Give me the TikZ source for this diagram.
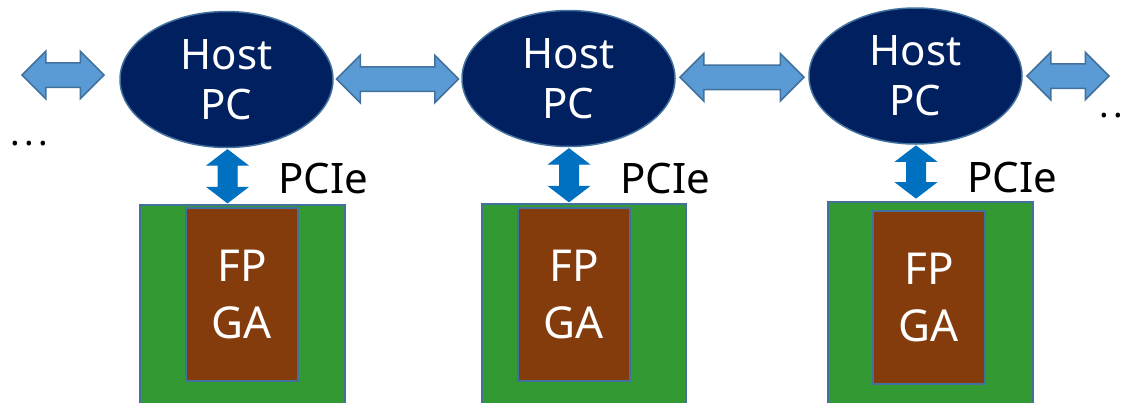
\documentclass[tikz,border=0pt]{standalone}
\usepackage{fontspec}
\setmainfont{Noto Sans}
\usetikzlibrary{shapes.geometric,shapes.arrows,calc}
\definecolor{navy}{HTML}{002060}
\definecolor{bord}{HTML}{41719C}
\definecolor{lblue}{HTML}{5B9BD5}
\definecolor{dblue}{HTML}{0070C0}
\definecolor{pcb}{HTML}{339933}
\definecolor{chip}{HTML}{843C0C}
\tikzset{
  host/.style={ellipse, draw=bord, fill=navy, line width=1.5pt, minimum width=213pt, minimum height=136pt, inner sep=0pt, text=white, align=center, font=\fontsize{42}{50}\selectfont},
  board/.style={rectangle, draw=bord, fill=pcb, line width=1.5pt, inner sep=0pt},
  chipbox/.style={rectangle, draw=bord, fill=chip, line width=1.5pt, inner sep=0pt, minimum width=112pt, minimum height=173pt, text=white, align=center, font=\fontsize{44}{57}\selectfont},
  harrow/.style={double arrow, draw=bord, fill=lblue, line width=1.5pt, inner xsep=0pt, inner ysep=11.5pt, minimum width=0pt, double arrow head extend=11.5pt, double arrow tip angle=90},
  varrow/.style={double arrow, draw=dblue, fill=dblue, line width=1pt, inner xsep=0pt, inner ysep=9pt, minimum width=0pt, minimum height=53pt, double arrow head extend=10.5pt, double arrow tip angle=105, rotate=90},
  lbl/.style={inner sep=0pt, anchor=base west, font=\fontsize{42}{50}\selectfont},
  dots/.style={inner sep=0pt, font=\fontsize{36}{36}\selectfont}
}
\begin{document}
\begin{tikzpicture}[x=1pt,y=-1pt]
\useasboundingbox (0,0) rectangle (1129,402);
% hosts
\node[host] (h1) at (226.5,79.5) {Host\\PC};
\node[host] (h2) at (568.5,78.5) {Host\\PC};
\node[host] (h3) at (915.5,76) {Host\\PC};
% boards
\node[board, minimum width=205pt, minimum height=200pt] (b1) at (242.5,305) {};
\node[board, minimum width=204pt, minimum height=201pt] (b2) at (584,304.5) {};
\node[board, minimum width=205pt, minimum height=203pt] (b3) at (930.5,303.5) {};
\node[chipbox] (c1) at (242,294.5) {FP\\GA};
\node[chipbox] (c2) at (574,294.5) {FP\\GA};
\node[chipbox] (c3) at (929,297.5) {FP\\GA};
% horizontal connectors
\node[harrow, minimum height=82pt] (a0) at (63,75) {};
\node[harrow, minimum height=122pt] (a12) at ($(h1.east)!0.5!(h2.west)$) {};
\node[harrow, minimum height=124pt] (a23) at ($(h2.east)!0.5!(h3.west)$) {};
\node[harrow, minimum height=82pt] (a4) at (1068,76) {};
% vertical PCIe connectors
\node[varrow] (v1) at ($(h1.south)!0.5!(h1.south |- b1.north)+(1,0)$) {};
\node[varrow] (v2) at ($(h2.south)!0.5!(h2.south |- b2.north)+(0.5,0)$) {};
\node[varrow, minimum height=52pt] (v3) at ($(h3.south)!0.5!(h3.south |- b3.north)+(0.5,-1)$) {};
% labels
\node[lbl] (p1) at (278,193) {PCIe};
\node[lbl] (p2) at (620,193) {PCIe};
\node[lbl] (p3) at (967,192) {PCIe};
\node[dots] (d1) at (29,144) {.\kern4.3pt.\kern4.3pt.};
\node[dots] (d2) at (1111,116) {.\kern4.3pt.};
\end{tikzpicture}
\end{document}
